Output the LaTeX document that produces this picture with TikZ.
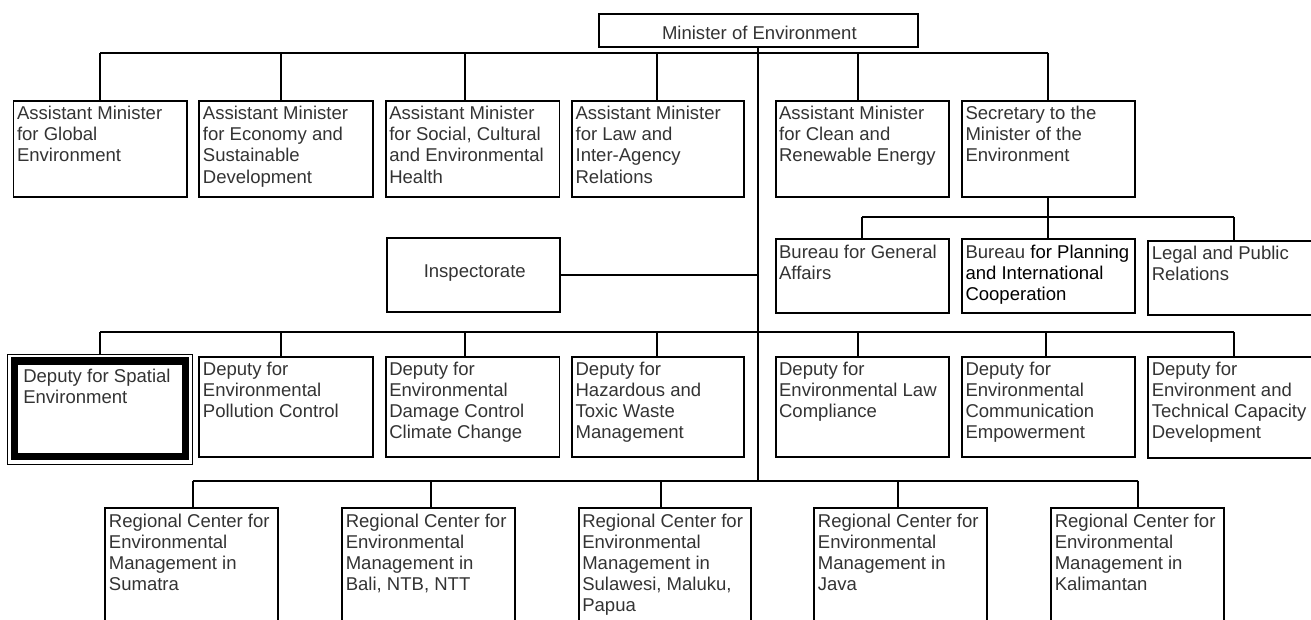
\documentclass[tikz,border=0pt]{standalone}
\usepackage{fontspec}
\setmainfont{Liberation Sans}
\usetikzlibrary{fit}

\newcommand\orgfont{\fontsize{13.9pt}{15.8pt}\selectfont}

\tikzset{
  unit/.style={draw=black, line width=1.4pt, inner sep=0pt, outer sep=0pt,
               text=black!80, font=\orgfont},
  unittext/.style={anchor=base west, inner sep=0pt, outer sep=0pt,
                   text=black!80, font=\orgfont},
  centertext/.style={anchor=center, inner sep=0pt, outer sep=0pt,
                     text=black!80, font=\orgfont},
  heavyframe/.style={draw=black, line width=5.5pt, inner sep=0pt, outer sep=0pt},
  link/.style={draw=black, line width=1.4pt},
}

% #1 name, (#2,#3) top left corner, (#4,#5) bottom right corner, #6 text
\newcommand\orgunit[6]{%
  \node[unit, fit={(#2,#3) (#4,#5)}] (#1) {};
  \node[unittext] (#1-text) at ([shift={(3.5,18.8)}]#1.north west)
    {\parbox[t]{180pt}{\raggedright #6}};%
}

\begin{document}
\begin{tikzpicture}[x=0.75pt, y=-0.75pt]
\useasboundingbox (0,0) rectangle (1311,619);
\clip (0,0) rectangle (1311,619);

% Minister
\node[unit, fit={(598.7,14) (918,47.3)}] (min) {};
\node[centertext] (min-text) at ([shift={(1,2.6)}]min.center) {Minister of Environment};

% Assistant ministers and secretary
\orgunit{a1}{13.5}{101}{186.8}{197}{Assistant Minister\\for Global\\Environment}
\orgunit{a2}{199.4}{101}{373.1}{197}{Assistant Minister\\for Economy and\\Sustainable\\Development}
\orgunit{a3}{385.8}{101}{559.5}{197}{Assistant Minister\\for Social, Cultural\\and Environmental\\Health}
\orgunit{a4}{572.1}{101}{743.6}{197}{Assistant Minister\\for Law and\\Inter-Agency\\Relations}
\orgunit{a5}{775.6}{101}{949.3}{197}{Assistant Minister\\for Clean and\\Renewable Energy}
\orgunit{a6}{962}{101}{1134.8}{197}{Secretary to the\\Minister of the\\Environment}

% Bureaus under the secretary
\orgunit{b1}{775.6}{239.3}{949.3}{313.3}{Bureau for General\\Affairs}
\orgunit{b2}{962}{239.3}{1134.8}{313.3}{Bureau {\color{black}for Planning\\and International\\Cooperation}}
\orgunit{b3}{1148.3}{241}{1330}{315}{Legal and Public\\Relations}

% Inspectorate
\node[unit, fit={(386.6,237.7) (559.9,311.7)}] (insp) {};
\node[centertext] (insp-text) at ([shift={(1.5,-2)}]insp.center) {Inspectorate};

% Deputies
\node[unit, line width=0.75pt, fit={(7.5,354) (192,464)}] (d1o) {};
\node[heavyframe, fit={(14.75,361) (185.25,456.25)}] (d1) {};
\node[unittext] (d1-text) at ([shift={(15.8,28.7)}]d1o.north west)
  {\parbox[t]{180pt}{\raggedright Deputy for Spatial\\Environment}};
\orgunit{d2}{199.4}{356.7}{373.1}{457.3}{Deputy for\\Environmental\\Pollution Control}
\orgunit{d3}{385.8}{356.7}{559.5}{457.3}{Deputy for\\Environmental\\Damage Control\\Climate Change}
\orgunit{d4}{572.1}{356.7}{743.6}{457.3}{Deputy for\\Hazardous and\\Toxic Waste\\Management}
\orgunit{d5}{775.6}{356.7}{949.3}{457.3}{Deputy for\\Environmental Law\\Compliance}
\orgunit{d6}{962}{356.7}{1134.8}{457.3}{Deputy for\\Environmental\\Communication\\Empowerment}
\orgunit{d7}{1148.3}{356.7}{1330}{458.3}{Deputy for\\Environment and\\Technical Capacity\\Development}

% Regional centers
\orgunit{r1}{105.4}{508.3}{278.2}{650}{Regional Center for\\Environmental\\Management in\\Sumatra}
\orgunit{r2}{342.3}{508.3}{515.2}{650}{Regional Center for\\Environmental\\Management in\\Bali, NTB, NTT}
\orgunit{r3}{578.8}{508.3}{751.2}{650}{Regional Center for\\Environmental\\Management in\\Sulawesi, Maluku,\\Papua}
\orgunit{r4}{814.4}{508.3}{987.3}{650}{Regional Center for\\Environmental\\Management in\\Java}
\orgunit{r5}{1051.3}{508.3}{1224.2}{650}{Regional Center for\\Environmental\\Management in\\Kalimantan}

% Junction points on the buses
\foreach \n/\x in {a1/100, a2/281, a3/465.4, a4/657, a5/858.3, a6/1048.4}
  \coordinate (\n-j) at (\x,52.7);
\foreach \n/\x in {b1/862, b2/1048.4, b3/1234.3}
  \coordinate (\n-j) at (\x,217.3);
\foreach \n/\x in {d1/100, d2/281, d3/465.4, d4/657, d5/858.3, d6/1046.3, d7/1234.3}
  \coordinate (\n-j) at (\x,332.3);
\foreach \n/\x in {r1/192.7, r2/430.9, r3/661.4, r4/897.9, r5/1137.8}
  \coordinate (\n-j) at (\x,480.7);
\coordinate (spine-end) at (758.35,480.7);

% Main spine from the minister down to the regional bus
\draw[link] (min.south) -- (spine-end);

% Assistant ministers
\draw[link] (a1-j) -- (a6-j);
\foreach \n in {a1,a2,a3,a4,a5,a6}
  \draw[link] (\n-j) -- (\n-j |- \n.north);

% Bureaus
\draw[link] (b2-j |- a6.south) -- (b2-j);
\draw[link] (b1-j) -- (b3-j);
\foreach \n in {b1,b2,b3}
  \draw[link] (\n-j) -- (\n-j |- \n.north);

% Inspectorate
\draw[link] (insp.east) -- (insp.east -| min.south);

% Deputies
\draw[link] (d1-j) -- (d7-j);
\draw[link] (d1-j) -- (d1-j |- d1o.north);
\foreach \n in {d2,d3,d4,d5,d6,d7}
  \draw[link] (\n-j) -- (\n-j |- \n.north);

% Regional centers
\draw[link] (r1-j) -- (r5-j);
\foreach \n in {r1,r2,r3,r4,r5}
  \draw[link] (\n-j) -- (\n-j |- \n.north);
\end{tikzpicture}
\end{document}
